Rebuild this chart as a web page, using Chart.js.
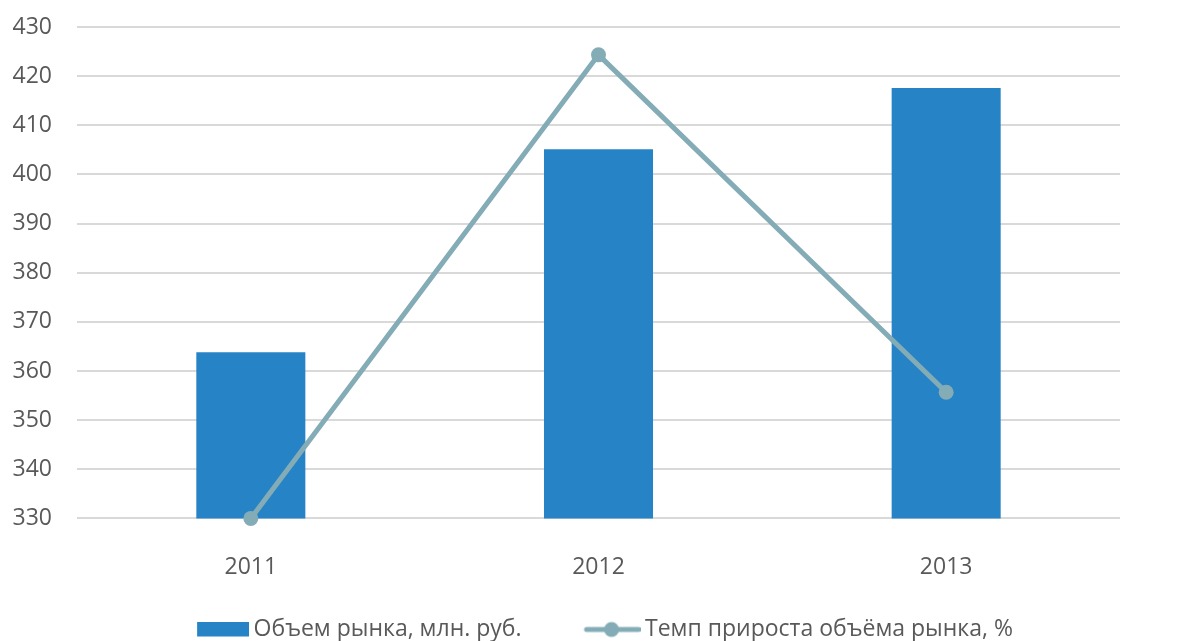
<!DOCTYPE html>
<html><head><meta charset="utf-8">
<script src="https://cdn.jsdelivr.net/npm/chart.js@4.4.0/dist/chart.umd.min.js"></script>
<style>html,body{margin:0;padding:0;background:#fff;overflow:hidden}#wrap{width:1195px;height:641px}</style>
</head><body><div id="wrap"><canvas id="c" width="1195" height="641"></canvas></div>
<script>
const categories = ['2011', '2012', '2013'];
const marketVolume = [363.8, 405.1, 417.6];
const growthRate = [0, 0.1132, 0.0308];
const seriesNames = ['Объем рынка, млн. руб.', 'Темп прироста объёма рынка, %'];
const leftAxis = {min: 330, max: 430, step: 10};
const rightAxis = {min: 0, max: 0.12, step: 0.02};

const BAR_COLOR = '#2683C6';
const LINE_COLOR = '#84ACB6';
const TEXT_COLOR = '#595959';
const GRID_COLOR = '#D9D9D9';

// Legend icons: visible part sits at the right end of a 124px wide canvas
function makeBarIcon() {
  const c = document.createElement('canvas');
  c.width = 124; c.height = 16;
  const g = c.getContext('2d');
  g.fillStyle = BAR_COLOR; g.fillRect(72, 0, 52, 15);
  return c;
}
function makeLineIcon() {
  const c = document.createElement('canvas');
  c.width = 124; c.height = 18;
  const g = c.getContext('2d');
  g.strokeStyle = LINE_COLOR; g.lineWidth = 5; g.lineCap = 'round';
  g.beginPath(); g.moveTo(70, 9); g.lineTo(122, 9); g.stroke();
  g.fillStyle = LINE_COLOR; g.beginPath(); g.arc(95, 9, 7.5, 0, Math.PI * 2); g.fill();
  return c;
}
const icons = [makeBarIcon(), makeLineIcon()];

Chart.defaults.font.family = "'Open Sans', sans-serif";
Chart.defaults.font.size = 23;
Chart.defaults.color = TEXT_COLOR;

function noVerticalPadding(scale) {
  scale.paddingTop = 0;
  scale.paddingBottom = 0;
}

new Chart(document.getElementById('c'), {
  data: {
    labels: categories,
    datasets: [
      {
        type: 'bar', label: seriesNames[0], data: marketVolume, yAxisID: 'y',
        backgroundColor: BAR_COLOR, borderWidth: 0, order: 2,
        categoryPercentage: 0.8, barPercentage: 0.392
      },
      {
        type: 'line', label: seriesNames[1], data: growthRate, yAxisID: 'y1',
        borderColor: LINE_COLOR, backgroundColor: LINE_COLOR, borderWidth: 5,
        pointRadius: 7.5, pointHoverRadius: 7.5, pointBackgroundColor: LINE_COLOR,
        pointBorderWidth: 0, tension: 0, order: 1, clip: false
      }
    ]
  },
  options: {
    responsive: false,
    animation: false,
    devicePixelRatio: 1,
    layout: {padding: {top: 27, left: 0, right: 50, bottom: -10}},
    scales: {
      x: {
        grid: {display: false, drawTicks: false},
        border: {display: false},
        ticks: {padding: 35, color: TEXT_COLOR}
      },
      y: {
        position: 'left', min: leftAxis.min, max: leftAxis.max,
        ticks: {stepSize: leftAxis.step, padding: 25, color: TEXT_COLOR},
        grid: {color: GRID_COLOR, lineWidth: 2, drawTicks: false},
        border: {display: false},
        afterFit(scale) { scale.width = 77; noVerticalPadding(scale); }
      },
      y1: {
        position: 'right', min: rightAxis.min, max: rightAxis.max,
        ticks: {stepSize: rightAxis.step, padding: 25, color: TEXT_COLOR,
          callback: (v) => String(Number(v.toFixed(2)))},
        grid: {display: false, drawTicks: false},
        border: {display: false},
        afterFit(scale) { scale.width = 25; noVerticalPadding(scale); }
      }
    },
    plugins: {
      tooltip: {enabled: false},
      legend: {
        position: 'bottom',
        labels: {
          usePointStyle: true,
          pointStyleWidth: 110,
          padding: 2,
          color: TEXT_COLOR,
          generateLabels(chart) {
            return chart.data.datasets.map((ds, i) => ({
              text: ds.label, pointStyle: icons[i], datasetIndex: i,
              fillStyle: i === 0 ? BAR_COLOR : LINE_COLOR, strokeStyle: 'transparent',
              lineWidth: 0, fontColor: TEXT_COLOR, hidden: false
            }));
          }
        }
      }
    }
  }
});
</script>
</body></html>
